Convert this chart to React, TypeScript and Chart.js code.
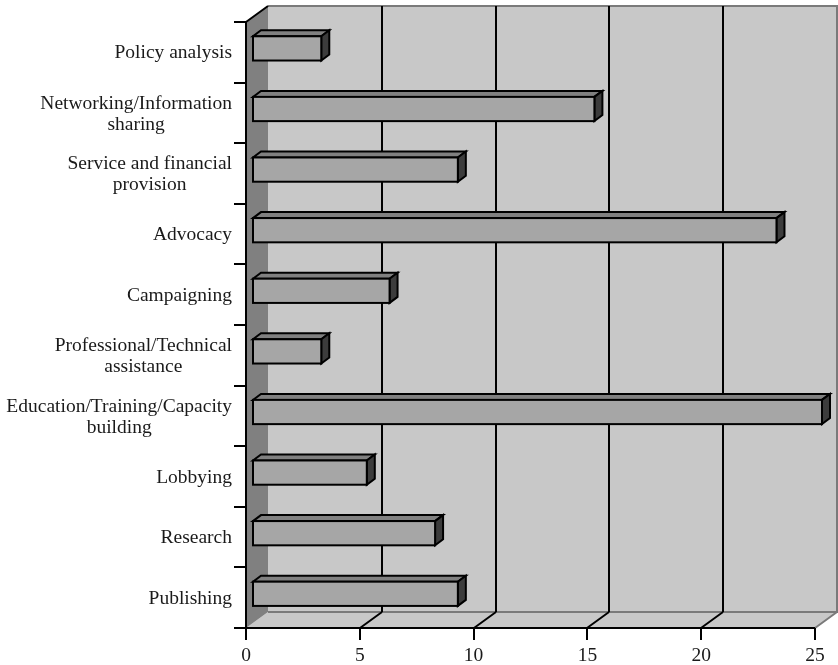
import React, { useEffect, useRef } from "react";
import { Chart, registerables } from "chart.js";

Chart.register(...registerables);

const categories: string[][] = [
  ["Policy analysis"],
  ["Networking/Information", "sharing"],
  ["Service and financial", "provision"],
  ["Advocacy"],
  ["Campaigning"],
  ["Professional/Technical", "assistance"],
  ["Education/Training/Capacity", "building"],
  ["Lobbying"],
  ["Research"],
  ["Publishing"],
];
const values: number[] = [3, 15, 9, 23, 6, 3, 25, 5, 8, 9];
const xTicks: number[] = [0, 5, 10, 15, 20, 25];

const DX = 22;
const DY = -16;
const FONT = '19.5px "Liberation Serif", "Times New Roman", serif';

const threeD = {
  id: "threeD",
  beforeDatasetsDraw(chart: any) {
    const ctx = chart.ctx;
    const a = chart.chartArea;
    const xs = chart.scales.x;
    ctx.save();
    // back wall
    ctx.fillStyle = "#c8c8c8";
    ctx.fillRect(a.left + DX, a.top + DY, a.right - a.left, a.bottom - a.top);
    // floor
    ctx.beginPath();
    ctx.moveTo(a.left, a.bottom);
    ctx.lineTo(a.right, a.bottom);
    ctx.lineTo(a.right + DX, a.bottom + DY);
    ctx.lineTo(a.left + DX, a.bottom + DY);
    ctx.closePath();
    ctx.fill();
    // left wall
    ctx.fillStyle = "#808080";
    ctx.beginPath();
    ctx.moveTo(a.left, a.top);
    ctx.lineTo(a.left + DX, a.top + DY);
    ctx.lineTo(a.left + DX, a.bottom + DY);
    ctx.lineTo(a.left, a.bottom);
    ctx.closePath();
    ctx.fill();
    // gray edges
    ctx.strokeStyle = "#7a7a7a";
    ctx.lineWidth = 2;
    ctx.beginPath();
    ctx.moveTo(a.left + DX, a.top + DY);
    ctx.lineTo(a.right + DX, a.top + DY);
    ctx.lineTo(a.right + DX, a.bottom + DY);
    ctx.lineTo(a.left + DX, a.bottom + DY);
    ctx.moveTo(a.right + DX, a.bottom + DY);
    ctx.lineTo(a.right, a.bottom);
    ctx.stroke();
    // gridlines
    ctx.strokeStyle = "#000";
    ctx.lineWidth = 2;
    ctx.beginPath();
    xTicks.forEach((t) => {
      if (t === 0 || t === 25) return;
      const px = Math.round(xs.getPixelForValue(t));
      ctx.moveTo(px + DX, a.top + DY);
      ctx.lineTo(px + DX, a.bottom + DY);
      ctx.moveTo(px + DX, a.bottom + DY);
      ctx.lineTo(px, a.bottom);
    });
    ctx.stroke();
    ctx.restore();
  },
  afterDatasetsDraw(chart: any) {
    const ctx = chart.ctx;
    const a = chart.chartArea;
    const xs = chart.scales.x;
    const ys = chart.scales.y;
    const meta = chart.getDatasetMeta(0);
    const fx = 7;
    const fy = -3.9;
    const bx = 8;
    const by = -6;
    ctx.save();
    ctx.lineWidth = 2;
    ctx.strokeStyle = "#000";
    ctx.lineJoin = "miter";
    meta.data.forEach((el: any) => {
      const p = el.getProps(["x", "y", "base", "height"], true);
      const x0 = p.base + fx;
      const x1 = p.x + fx;
      const yT = p.y - p.height / 2 + fy;
      const yB = p.y + p.height / 2 + fy;
      // top face
      ctx.fillStyle = "#808080";
      ctx.beginPath();
      ctx.moveTo(x0, yT);
      ctx.lineTo(x1, yT);
      ctx.lineTo(x1 + bx, yT + by);
      ctx.lineTo(x0 + bx, yT + by);
      ctx.closePath();
      ctx.fill();
      ctx.stroke();
      // side face
      ctx.fillStyle = "#3c3c3c";
      ctx.beginPath();
      ctx.moveTo(x1, yT);
      ctx.lineTo(x1 + bx, yT + by);
      ctx.lineTo(x1 + bx, yB + by);
      ctx.lineTo(x1, yB);
      ctx.closePath();
      ctx.fill();
      ctx.stroke();
      // front face
      ctx.fillStyle = "#a6a6a6";
      ctx.fillRect(x0, yT, x1 - x0, yB - yT);
      ctx.strokeRect(x0, yT, x1 - x0, yB - yT);
    });

    // axes
    ctx.strokeStyle = "#000";
    ctx.lineWidth = 2;
    ctx.beginPath();
    ctx.moveTo(a.left, a.top);
    ctx.lineTo(a.left + DX, a.top + DY);
    ctx.moveTo(a.left, a.top);
    ctx.lineTo(a.left, a.bottom + 12);
    ctx.moveTo(a.left - 12, a.bottom);
    ctx.lineTo(a.right, a.bottom);
    xTicks.forEach((t) => {
      const px = Math.round(xs.getPixelForValue(t));
      ctx.moveTo(px, a.bottom);
      ctx.lineTo(px, a.bottom + 12);
    });
    const n = categories.length;
    const band = (a.bottom - a.top) / n;
    for (let i = 0; i < n; i++) {
      const yy = Math.round(ys.getPixelForValue(i) - band / 2);
      ctx.moveTo(a.left - 12, yy);
      ctx.lineTo(a.left, yy);
    }
    ctx.stroke();

    // labels
    ctx.fillStyle = "#1a1a1a";
    ctx.font = FONT;
    ctx.textAlign = "center";
    ctx.textBaseline = "middle";
    const lh = 21;
    categories.forEach((lines, i) => {
      const cy = ys.getPixelForValue(i) + 1;
      const w = Math.max(...lines.map((l) => ctx.measureText(l).width));
      const cx = a.left - 14 - w / 2;
      lines.forEach((l, j) => {
        const ly = cy + (j - (lines.length - 1) / 2) * lh;
        ctx.fillText(l, cx, ly);
      });
    });
    ctx.textBaseline = "alphabetic";
    xTicks.forEach((t) => {
      const px = xs.getPixelForValue(t);
      ctx.fillText(String(t), px, a.bottom + 33);
    });
    ctx.restore();
  },
};

export default function App() {
  const ref = useRef<HTMLCanvasElement | null>(null);
  useEffect(() => {
    document.body.style.margin = "0";
    document.body.style.overflow = "hidden";
    const chart = new Chart(ref.current as HTMLCanvasElement, {
      type: "bar",
      data: {
        labels: categories,
        datasets: [
          {
            data: values,
            backgroundColor: "rgba(0,0,0,0)",
            borderWidth: 0,
            categoryPercentage: 1,
            barPercentage: 0.4,
          },
        ],
      },
      options: {
        indexAxis: "y",
        animation: false,
        responsive: false,
        layout: { padding: { left: 246, right: 23, top: 22, bottom: 37 } },
        plugins: { legend: { display: false }, tooltip: { enabled: false } },
        scales: {
          x: { display: false, min: 0, max: 25 },
          y: { display: false, offset: true },
        },
      },
      plugins: [threeD],
    });
    return () => chart.destroy();
  }, []);
  return <canvas ref={ref} width={838} height={665} style={{ display: "block" }} />;
}
